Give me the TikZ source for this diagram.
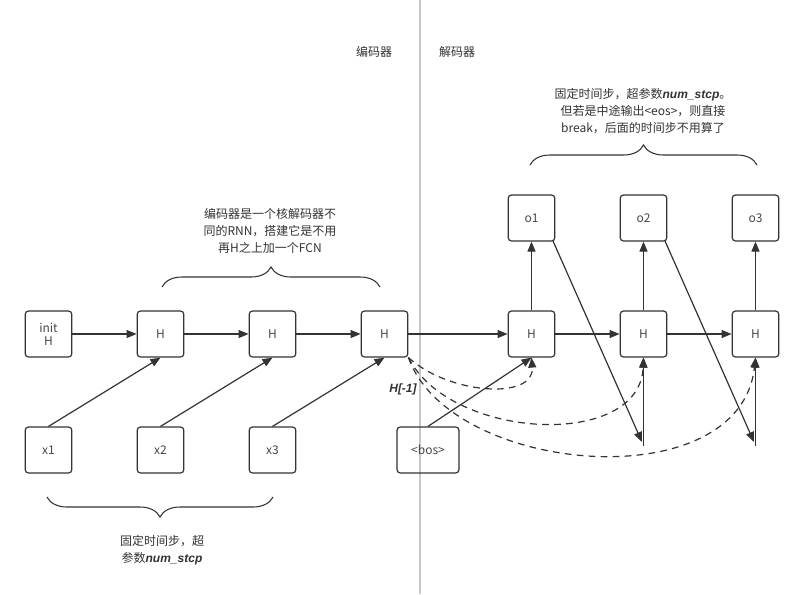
\documentclass[tikz,border=0pt]{standalone}
\usepackage{fontspec}
\setmainfont{Noto Sans CJK SC}
\newfontfamily\latfont{Liberation Sans}
\usetikzlibrary{arrows.meta,decorations.pathreplacing}
\newcommand\nsbi[1]{{\latfont\bfseries\itshape #1}}
\definecolor{edge}{HTML}{333333}
\tikzset{
  box/.style={draw=edge, line width=0.9pt, rounded corners=2.5pt, minimum width=35pt, minimum height=34.5pt, inner sep=0pt, font=\fontsize{9}{11}\selectfont, text=edge!90},
  wbox/.style={box, minimum width=46.5pt},
  arr/.style={draw=edge, line width=0.9pt, -{Triangle[length=7.5pt,width=6pt]}},
  darr/.style={arr, dash pattern=on 5pt off 4pt},
  note/.style={align=center, font=\fontsize{9}{13}\selectfont, text=edge, inner sep=0pt},
  brc/.style={draw=edge, line width=0.8pt, decorate, decoration={brace, amplitude=15pt}}
}
\begin{document}
\begin{tikzpicture}[x=0.75pt,y=-0.75pt]
\useasboundingbox (0,0) rectangle (804,594);
\fill[white] (0,0) rectangle (804,594);
% divider
\draw[draw=black!22, line width=1pt] (420,0) -- (420,594);
\node[note] (enc) at (374,52) {编码器};
\node[note] (dec) at (457,52) {解码器};
% encoder
\node[box, align=center] (init) at (48.5,334) {\shortstack{init\\H}};
\node[box] (h1) at (160.5,334) {H};
\node[box] (h2) at (272.5,334) {H};
\node[box] (h3) at (384.5,334) {H};
\node[box] (x1) at (48.5,450) {x1};
\node[box] (x2) at (160.5,450) {x2};
\node[box] (x3) at (272.5,450) {x3};
% decoder
\node[wbox] (bos) at (428,450) {<bos>};
\node[box] (h4) at (531.5,334) {H};
\node[box] (h5) at (643.5,334) {H};
\node[box] (h6) at (755.5,334) {H};
\node[box] (o1) at (531.5,218) {o1};
\node[box] (o2) at (643.5,218) {o2};
\node[box] (o3) at (755.5,218) {o3};
\coordinate (o1s) at (553,241);
\coordinate (o2s) at (665,241);
\coordinate (p5) at (642,442);
\coordinate (p6) at (754,442);
\coordinate (q5) at (643.5,446);
\coordinate (q6) at (755.5,446);
% arrows
\draw[arr] (init) -- (h1);
\draw[arr] (h1) -- (h2);
\draw[arr] (h2) -- (h3);
\draw[arr] (h3) -- (h4);
\draw[arr] (h4) -- (h5);
\draw[arr] (h5) -- (h6);
\draw[arr] (x1.north) -- (h1.south);
\draw[arr] (x2.north) -- (h2.south);
\draw[arr] (x3.north) -- (h3.south);
\draw[arr] (bos.north) -- (h4.south);
\draw[arr] (h4) -- (o1);
\draw[arr] (h5) -- (o2);
\draw[arr] (h6) -- (o3);
\draw[arr] (o1s) -- (p5);
\draw[arr] (o2s) -- (p6);
\draw[arr] (q5) -- (h5.south);
\draw[arr] (q6) -- (h6.south);
% dashed
\draw[darr] (h3.south east) .. controls (450,395) and (535,400) .. (h4.south);
\draw[darr] (h3.south east) .. controls (450,440) and (640,450) .. (h5.south);
\draw[darr] (h3.south east) .. controls (450,475) and (740,500) .. (h6.south);
\node[note] (hm1) at (403,389) {\nsbi{H[-1]}};
% braces and notes
\draw[brc] (162,287) coordinate (b1a) -- (380,287) coordinate (b1b);
\node[note] (n1) at (270,231) {编码器是一个核解码器不\\同的RNN，搭建它是不用\\再H之上加一个FCN};
\draw[brc] (530,165) coordinate (b2a) -- (757,165) coordinate (b2b);
\node[note] (n2) at (643,111) {固定时间步，超参数\nsbi{num\_stcp}。\\但若是中途输出<eos>，则直接\\break，后面的时间步不用算了};
\draw[brc] (273,497) coordinate (b3a) -- (47,497) coordinate (b3b);
\node[note] (n3) at (162,550) {固定时间步，超\\参数\nsbi{num\_stcp}};
\end{tikzpicture}
\end{document}
